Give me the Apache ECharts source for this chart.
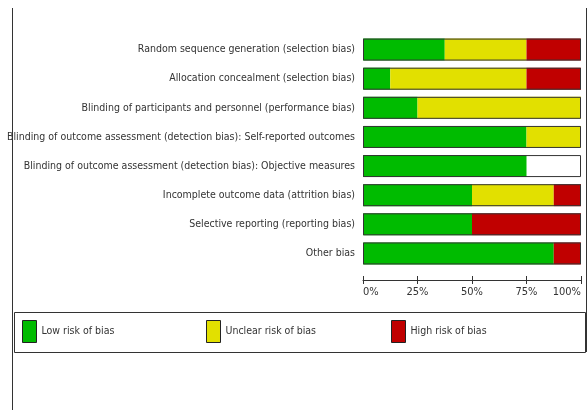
<!DOCTYPE html>
<html lang="en">

<head>
    <meta charset="UTF-8">
    <title>Risk of bias graph</title>
    <style>
        * {
            margin: 0;
            padding: 0;
        }

        body {
            background: #fff;
        }

        .box {
            width: 588px;
            height: 410px;
        }
    </style>
</head>

<body>
    <div class="box" id="main"></div>

    <script src="https://cdn.jsdelivr.net/npm/echarts@6/dist/echarts.min.js"></script>
    <script>
        // domains, top to bottom
        var categories = [
            'Random sequence generation (selection bias)',
            'Allocation concealment (selection bias)',
            'Blinding of participants and personnel (performance bias)',
            'Blinding of outcome assessment (detection bias): Self-reported outcomes',
            'Blinding of outcome assessment (detection bias): Objective measures',
            'Incomplete outcome data (attrition bias)',
            'Selective reporting (reporting bias)',
            'Other bias'
        ];
        var seriesNames = ['Low risk of bias', 'Unclear risk of bias', 'High risk of bias'];
        // percentages
        var lowRisk = [37.5, 12.5, 25, 75, 75, 50, 50, 87.5];
        var unclearRisk = [37.5, 62.5, 75, 25, 0, 37.5, 0, 0];
        var highRisk = [25, 25, 0, 0, 0, 12.5, 50, 12.5];
        var fullBar = [100, 100, 100, 100, 100, 100, 100, 100];
        var tickValues = [0, 25, 50, 75, 100];

        var font = '"DejaVu Sans Condensed", "Liberation Sans", Arial, sans-serif';
        var colors = ['#00bb00', '#e2e000', '#c00000'];

        var myChart = echarts.init(document.getElementById('main'));

        function legendAt(name, left) {
            return {
                data: [name],
                left: left,
                top: 320,
                padding: 0,
                icon: 'rect',
                itemWidth: 14,
                itemHeight: 22,
                itemStyle: { borderColor: '#222', borderWidth: 1 },
                textStyle: { fontFamily: font, fontSize: 10.5, color: '#333' },
                selectedMode: false
            };
        }

        var bars = [lowRisk, unclearRisk, highRisk].map(function (d, i) {
            return {
                name: seriesNames[i],
                type: 'bar',
                stack: 'risk',
                barWidth: 22,
                data: d,
                itemStyle: { color: colors[i] },
                silent: true
            };
        });

        // outline around the whole bar
        bars.push({
            name: 'outline',
            type: 'bar',
            barWidth: 22,
            barGap: '-100%',
            data: fullBar,
            z: 5,
            silent: true,
            itemStyle: { color: 'transparent', borderColor: '#333', borderWidth: 1 }
        });

        var option = {
            animation: false,
            color: colors,
            grid: { left: 363, right: 7, top: 35, height: 233, outerBoundsMode: 'none', containLabel: false },
            legend: [legendAt(seriesNames[0], 22), legendAt(seriesNames[1], 206), legendAt(seriesNames[2], 391)],
            xAxis: [{
                type: 'value',
                min: tickValues[0],
                max: tickValues[tickValues.length - 1],
                interval: 25,
                offset: 12,
                splitLine: { show: false },
                axisLine: { show: true, lineStyle: { color: '#333', width: 1 } },
                axisTick: { show: true, length: 4, lineStyle: { color: '#333' } },
                axisLabel: {
                    formatter: '{value}%',
                    fontFamily: font,
                    fontSize: 11,
                    color: '#333',
                    margin: 7,
                    alignMinLabel: 'left',
                    alignMaxLabel: 'right'
                }
            }, {
                type: 'value',
                position: 'bottom',
                min: tickValues[0],
                max: tickValues[tickValues.length - 1],
                interval: 25,
                offset: 12,
                splitLine: { show: false },
                axisLine: { show: false },
                axisTick: { show: true, inside: true, length: 4, lineStyle: { color: '#333' } },
                axisLabel: { show: false }
            }],
            yAxis: {
                type: 'category',
                data: categories,
                inverse: true,
                axisLine: { show: false },
                axisTick: { show: false },
                axisLabel: {
                    fontFamily: font,
                    fontSize: 10.5,
                    color: '#333',
                    margin: 8
                }
            },
            graphic: [
                { type: 'line', shape: { x1: 12.5, y1: 8, x2: 12.5, y2: 410 }, style: { stroke: '#333', lineWidth: 1 } },
                { type: 'line', shape: { x1: 586.5, y1: 8, x2: 586.5, y2: 352 }, style: { stroke: '#333', lineWidth: 1 } },
                { type: 'rect', shape: { x: 14.5, y: 312.5, width: 571, height: 40 }, style: { fill: 'none', stroke: '#333', lineWidth: 1 }, z: -1 }
            ],
            series: bars
        };
        myChart.setOption(option);
    </script>
</body>

</html>
